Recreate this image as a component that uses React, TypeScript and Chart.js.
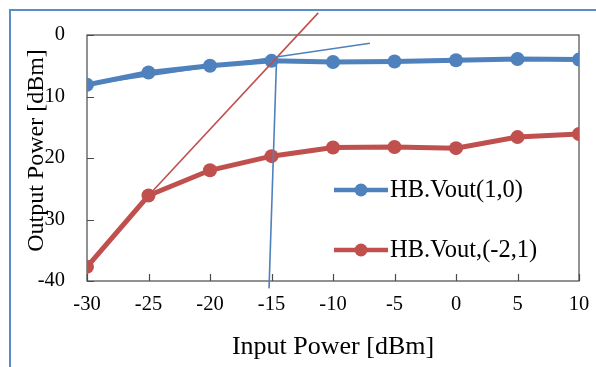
import React, { useEffect, useRef } from 'react';
import { Chart, registerables } from 'chart.js';

Chart.register(...registerables);

// ---- data ----
const inputPower = [-30, -25, -20, -15, -10, -5, 0, 5, 10];
const voutFund = [-8.1, -6.1, -5.0, -4.2, -4.4, -4.3, -4.1, -3.9, -4.0];
const voutIM = [-37.7, -26.1, -22.0, -19.7, -18.3, -18.2, -18.4, -16.6, -16.1];
const fundTrendX = [-30, -7];
const fundTrendY = [-8.1, -1.35];
const imTrendX = [-25, -11.2];
const imTrendY = [-26.1, 3.6];
const compLineX = [-14.6, -15.2];
const compLineY = [-4.6, -41.2];
const seriesNames = ['HB.Vout(1,0)', 'HB.Vout,(-2,1)'];
const xTitle = 'Input Power [dBm]';
const yTitle = 'Output Power [dBm]';

const BLUE = '#4F81BD';
const RED = '#C0504D';
const FONT = '"Liberation Serif", "Times New Roman", serif';

const zip = (xs: number[], ys: number[]) => xs.map((x, i) => ({ x, y: ys[i] }));

const decor = {
  id: 'decor',
  beforeDraw(chart: any) {
    const { ctx, width, height } = chart;
    ctx.save();
    ctx.fillStyle = '#ffffff';
    ctx.fillRect(0, 0, width, height);
    ctx.strokeStyle = '#5B8BC9';
    ctx.lineWidth = 2;
    ctx.beginPath();
    ctx.moveTo(10, height + 5);
    ctx.lineTo(10, 10);
    ctx.lineTo(width + 5, 10);
    ctx.stroke();
    ctx.restore();
  },
  beforeDatasetsDraw(chart: any) {
    const { ctx, chartArea: a, scales } = chart;
    ctx.save();
    ctx.strokeStyle = '#4a4a4a';
    ctx.lineWidth = 1.2;
    ctx.strokeRect(a.left, a.top, a.right - a.left, a.bottom - a.top);
    ctx.beginPath();
    scales.x.ticks.forEach((t: any) => {
      const px = Math.round(scales.x.getPixelForValue(t.value)) + 0.5;
      ctx.moveTo(px, a.bottom);
      ctx.lineTo(px, a.bottom - 7);
    });
    scales.y.ticks.forEach((t: any) => {
      const py = Math.round(scales.y.getPixelForValue(t.value)) + 0.5;
      ctx.moveTo(a.left, py);
      ctx.lineTo(a.left + 7, py);
    });
    ctx.stroke();
    ctx.restore();
  },
  afterDraw(chart: any) {
    const { ctx } = chart;
    ctx.save();
    // y-axis title with white box (overlaps tick label minus signs)
    ctx.font = `24px ${FONT}`;
    const tw = ctx.measureText(yTitle).width;
    const cy = 150.5;
    ctx.fillStyle = '#ffffff';
    ctx.fillRect(17, cy - tw / 2 - 3, 27, tw + 6);
    ctx.translate(43, cy);
    ctx.rotate(-Math.PI / 2);
    ctx.fillStyle = '#000000';
    ctx.textAlign = 'center';
    ctx.textBaseline = 'alphabetic';
    ctx.fillText(yTitle, 0, 0);
    ctx.restore();

    // legend
    ctx.save();
    const items = [
      { name: seriesNames[0], color: BLUE, y: 190 },
      { name: seriesNames[1], color: RED, y: 250 },
    ];
    items.forEach((it) => {
      ctx.strokeStyle = it.color;
      ctx.lineWidth = 4.5;
      ctx.beginPath();
      ctx.moveTo(334, it.y);
      ctx.lineTo(388, it.y);
      ctx.stroke();
      ctx.fillStyle = it.color;
      ctx.beginPath();
      ctx.arc(361, it.y, 6.5, 0, Math.PI * 2);
      ctx.fill();
      ctx.fillStyle = '#000000';
      ctx.font = `24.5px ${FONT}`;
      ctx.textAlign = 'left';
      ctx.textBaseline = 'middle';
      ctx.fillText(it.name, 390, it.y + 1);
    });
    ctx.restore();
  },
};

export default function App() {
  const ref = useRef<HTMLCanvasElement>(null);
  useEffect(() => {
    if (!ref.current) return;
    const chart = new Chart(ref.current, {
      type: 'scatter',
      data: {
        datasets: [
          {
            label: seriesNames[0],
            data: zip(inputPower, voutFund),
            showLine: true,
            borderColor: BLUE,
            backgroundColor: BLUE,
            borderWidth: 5,
            pointRadius: 7,
            pointBorderWidth: 0,
            order: 2,
          },
          {
            label: seriesNames[1],
            data: zip(inputPower, voutIM),
            showLine: true,
            borderColor: RED,
            backgroundColor: RED,
            borderWidth: 5,
            pointRadius: 7,
            pointBorderWidth: 0,
            order: 2,
          },
          {
            label: 'fund-trend',
            data: zip(fundTrendX, fundTrendY),
            showLine: true,
            borderColor: BLUE,
            borderWidth: 1.6,
            pointRadius: 0,
            clip: false,
            order: 1,
          },
          {
            label: 'im-trend',
            data: zip(imTrendX, imTrendY),
            showLine: true,
            borderColor: RED,
            borderWidth: 1.6,
            pointRadius: 0,
            clip: false,
            order: 1,
          },
          {
            label: 'comp-line',
            data: zip(compLineX, compLineY),
            showLine: true,
            borderColor: BLUE,
            borderWidth: 1.6,
            pointRadius: 0,
            clip: false,
            order: 1,
          },
        ],
      },
      options: {
        animation: false,
        responsive: false,
        devicePixelRatio: 1,
        layout: { padding: { left: 0, top: 35, right: 17, bottom: 0 } },
        plugins: { legend: { display: false }, tooltip: { enabled: false } },
        scales: {
          x: {
            type: 'linear',
            min: -30,
            max: 10,
            ticks: {
              stepSize: 5,
              color: '#000000',
              padding: 6,
              font: { family: FONT, size: 20.5, lineHeight: 1.7 },
            },
            grid: { display: false, drawTicks: false },
            border: { display: false },
            title: {
              display: true,
              text: xTitle,
              color: '#000000',
              font: { family: FONT, size: 26 },
              padding: { top: 0, bottom: 4 },
            },
            afterFit: (s: any) => {
              s.height = 86;
            },
          },
          y: {
            type: 'linear',
            min: -40,
            max: 0,
            ticks: {
              stepSize: 10,
              color: '#000000',
              padding: 22,
              font: { family: FONT, size: 20.5 },
            },
            grid: { display: false, drawTicks: false },
            border: { display: false },
            afterFit: (s: any) => {
              s.width = 87;
            },
          },
        },
      },
      plugins: [decor],
    } as any);
    return () => chart.destroy();
  }, []);
  return (
    <div style={{ position: 'fixed', left: 0, top: 0, width: 596, height: 367, overflow: 'hidden', background: '#fff' }}>
      <canvas ref={ref} width={596} height={367} style={{ display: 'block' }} />
    </div>
  );
}
